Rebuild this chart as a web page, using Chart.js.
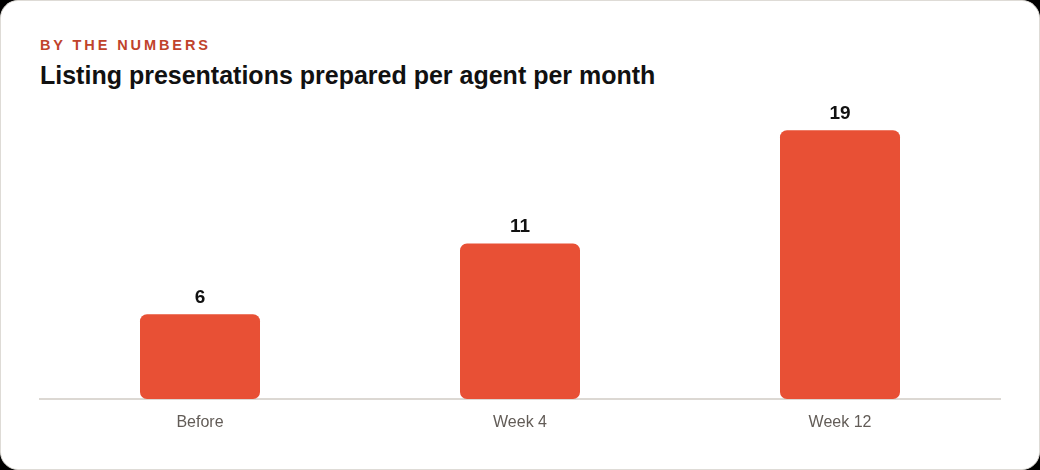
<!DOCTYPE html>
<html>
<head>
<meta charset="utf-8">
<script src="https://cdn.jsdelivr.net/npm/chart.js@4"></script>
<style>
  html, body { margin: 0; padding: 0; background: #000; }
  .card {
    position: relative;
    width: 1038px;
    height: 468px;
    background: #fff;
    border: 1px solid #dedbd6;
    border-radius: 18px;
    overflow: hidden;
    font-family: "Liberation Sans", Arial, sans-serif;
  }
  .eyebrow {
    position: absolute;
    left: 39px;
    top: 36.7px;
    font-size: 14.5px;
    line-height: 1;
    font-weight: bold;
    letter-spacing: 2.9px;
    color: #c0432b;
  }
  .title {
    position: absolute;
    left: 39px;
    top: 61.8px;
    font-size: 25px;
    line-height: 1;
    font-weight: bold;
    color: #111;
  }
  #chart { position: absolute; left: 0; top: 0; }
</style>
</head>
<body>
<div class="card">
  <div class="eyebrow">BY THE NUMBERS</div>
  <div class="title">Listing presentations prepared per agent per month</div>
  <canvas id="chart" width="1038" height="468"></canvas>
</div>
<script>
const categories = ['Before', 'Week 4', 'Week 12'];
const values = [6, 11, 19];
const yMax = 21;

// draws the value above each bar
const valueLabels = {
  id: 'valueLabels',
  afterDatasetsDraw(chart) {
    const ctx = chart.ctx;
    const meta = chart.getDatasetMeta(0);
    ctx.save();
    ctx.font = 'bold 19px "Liberation Sans", Arial, sans-serif';
    ctx.fillStyle = '#111';
    ctx.textAlign = 'center';
    ctx.textBaseline = 'alphabetic';
    meta.data.forEach((bar, i) => {
      ctx.fillText(values[i], bar.x, bar.y - 11);
    });
    ctx.restore();
  }
};

new Chart(document.getElementById('chart'), {
  type: 'bar',
  data: {
    labels: categories,
    datasets: [{
      data: values,
      backgroundColor: '#e85035',
      borderRadius: 7,
      borderSkipped: false,
      categoryPercentage: 1,
      barPercentage: 0.375
    }]
  },
  options: {
    responsive: false,
    animation: false,
    layout: { padding: { left: 39, right: 39, top: 101, bottom: 0 } },
    plugins: {
      legend: { display: false },
      tooltip: { enabled: false }
    },
    scales: {
      y: { display: false, min: 0, max: yMax },
      x: {
        grid: { display: false, drawTicks: false },
        border: { display: true, color: '#dcd8d3', width: 2 },
        ticks: {
          color: '#625c57',
          padding: 14,
          font: { family: '"Liberation Sans", Arial, sans-serif', size: 16 }
        },
        afterFit(scale) { scale.height = 70; }
      }
    }
  },
  plugins: [valueLabels]
});
</script>
</body>
</html>
